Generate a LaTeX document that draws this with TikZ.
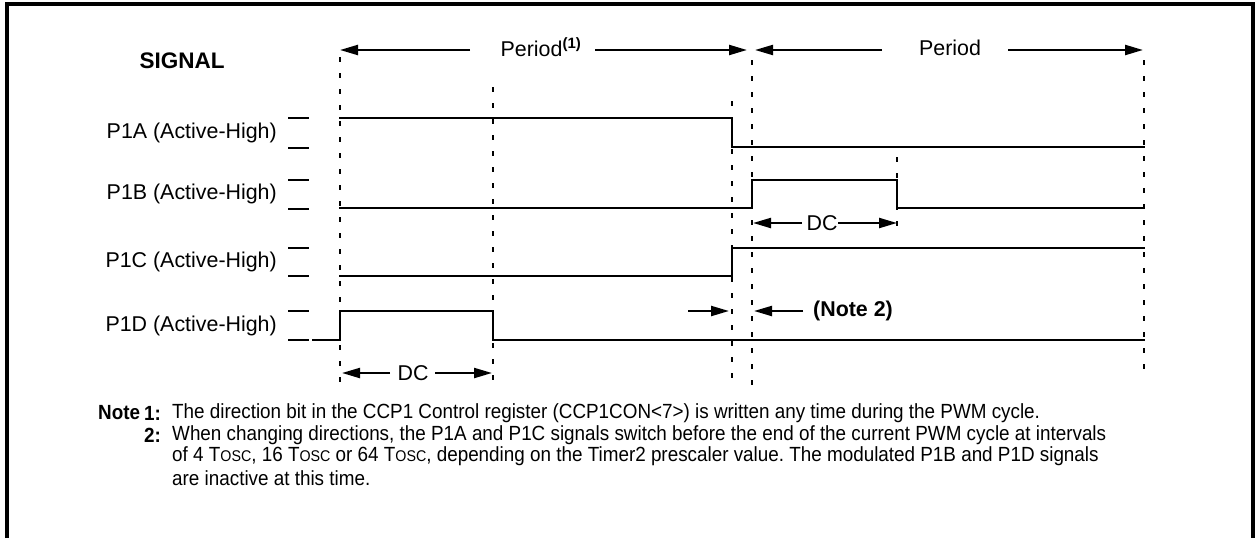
\documentclass[tikz,border=0pt]{standalone}
\usepackage{fontspec}
\usepackage{graphicx}
\setmainfont{Liberation Sans}
\usetikzlibrary{arrows.meta}
\newcommand{\tosc}{T{\fontsize{15.5}{18}\selectfont OSC}}
\newcommand{\cond}[1]{\scalebox{0.92}[1]{#1}}
\frenchspacing
\begin{document}
\begin{tikzpicture}[x=1pt,y=-1pt,
  frame/.style={line width=3.4pt, line join=miter},
  sig/.style={line width=2.8pt, line join=miter, line cap=rect},
  guide/.style={line width=2.4pt, dash pattern=on 5pt off 11pt},
  tick/.style={line width=2.6pt},
  arr/.style={line width=2.2pt, -{Triangle[length=18pt,width=10pt]}},
  lbl/.style={font=\fontsize{21.4}{25}\selectfont, inner sep=0pt},
  blbl/.style={font=\fontsize{21.4}{25}\selectfont\bfseries, inner sep=0pt},
  ntxt/.style={font=\fontsize{20.5}{24}\selectfont, inner sep=0pt},
  nbold/.style={font=\fontsize{20.5}{24}\selectfont\bfseries, inner sep=0pt}]
\useasboundingbox (0,0) rectangle (1255,538);
% frame
\draw[frame] (7,538) -- (7,4) -- (1253,4) -- (1253,538);
% title
\node[font=\fontsize{22.5}{26}\selectfont\bfseries, inner sep=0pt] (signal) at (182,61) {SIGNAL};
% guides
\draw[guide] (340,57) -- (340,385);
\draw[guide] (493,87) -- (493,385);
\draw[guide] (732,101) -- (732,385);
\draw[guide] (752,60) -- (752,385);
\draw[guide] (897,157) -- (897,235);
\draw[guide] (1144,60) -- (1144,380);
% labels
\node[lbl, anchor=east] (la) at (277,133) {P1A (Active-High)};
\node[lbl, anchor=east] (lb) at (277,194) {P1B (Active-High)};
\node[lbl, anchor=east] (lc) at (277,262) {P1C (Active-High)};
\node[lbl, anchor=east] (ld) at (277,326) {P1D (Active-High)};
% ticks
\foreach \yy in {118,148,180,209,248,276,311,340}
  \draw[tick] (288,\yy) -- (309,\yy);
% signals
\draw[sig] (340,118) -- (732,118) -- (732,147) -- (1144,147);
\draw[sig] (340,208) -- (752,208) -- (752,180) -- (897,180) -- (897,208) -- (1144,208);
\draw[sig] (340,276) -- (732,276) -- (732,248) -- (1144,248);
\draw[sig] (313,340) -- (340,340) -- (340,311) -- (493,311) -- (493,340) -- (1144,340);
% period arrows
\node[lbl] (per1) at (541,47) {Period\textsuperscript{\bfseries(1)}};
\node[lbl] (per2) at (950,48) {Period};
\coordinate (p1a) at (470,50); \coordinate (p1at) at (340,50);
\coordinate (p1b) at (595,50); \coordinate (p1bt) at (747,50);
\coordinate (p2a) at (882,50); \coordinate (p2at) at (755,50);
\coordinate (p2b) at (1008,50); \coordinate (p2bt) at (1143,50);
\draw[arr] (p1a) -- (p1at);
\draw[arr] (p1b) -- (p1bt);
\draw[arr] (p2a) -- (p2at);
\draw[arr] (p2b) -- (p2bt);
% DC top
\node[lbl] (dc1) at (822,223) {DC};
\coordinate (d1a) at (802,223); \coordinate (d1at) at (753,223);
\coordinate (d1b) at (838,223); \coordinate (d1bt) at (897,223);
\draw[arr] (d1a) -- (d1at);
\draw[arr] (d1b) -- (d1bt);
% DC bottom
\node[lbl] (dc2) at (413,373) {DC};
\coordinate (d2a) at (390,373); \coordinate (d2at) at (342,373);
\coordinate (d2b) at (435,373); \coordinate (d2bt) at (492,373);
\draw[arr] (d2a) -- (d2at);
\draw[arr] (d2b) -- (d2bt);
% note 2 arrows
\node[blbl, anchor=west] (n2) at (813,311) {(Note 2)};
\coordinate (n2a) at (688,311); \coordinate (n2at) at (729,311);
\coordinate (n2b) at (803,311); \coordinate (n2bt) at (754,311);
\draw[arr] (n2a) -- (n2at);
\draw[arr] (n2b) -- (n2bt);
% notes
\node[nbold, anchor=west] (note) at (98,413) {\cond{Note}};
\node[nbold, anchor=east] (k1) at (161,413) {\cond{1:}};
\node[nbold, anchor=east] (k2) at (161,435) {\cond{2:}};
\node[ntxt, anchor=west] (t1) at (172,413) {\cond{The direction bit in the CCP1 Control register (CCP1CON<7>) is written any time during the PWM cycle.}};
\node[ntxt, anchor=west] (t2) at (172,435) {\cond{When changing directions, the P1A and P1C signals switch before the end of the current PWM cycle at intervals}};
\node[ntxt, anchor=west] (t3) at (172,456) {\cond{of 4 \tosc, 16 \tosc{} or 64 \tosc, depending on the Timer2 prescaler value. The modulated P1B and P1D signals}};
\node[ntxt, anchor=west] (t4) at (172,478) {\cond{are inactive at this time.}};
\end{tikzpicture}
\end{document}
